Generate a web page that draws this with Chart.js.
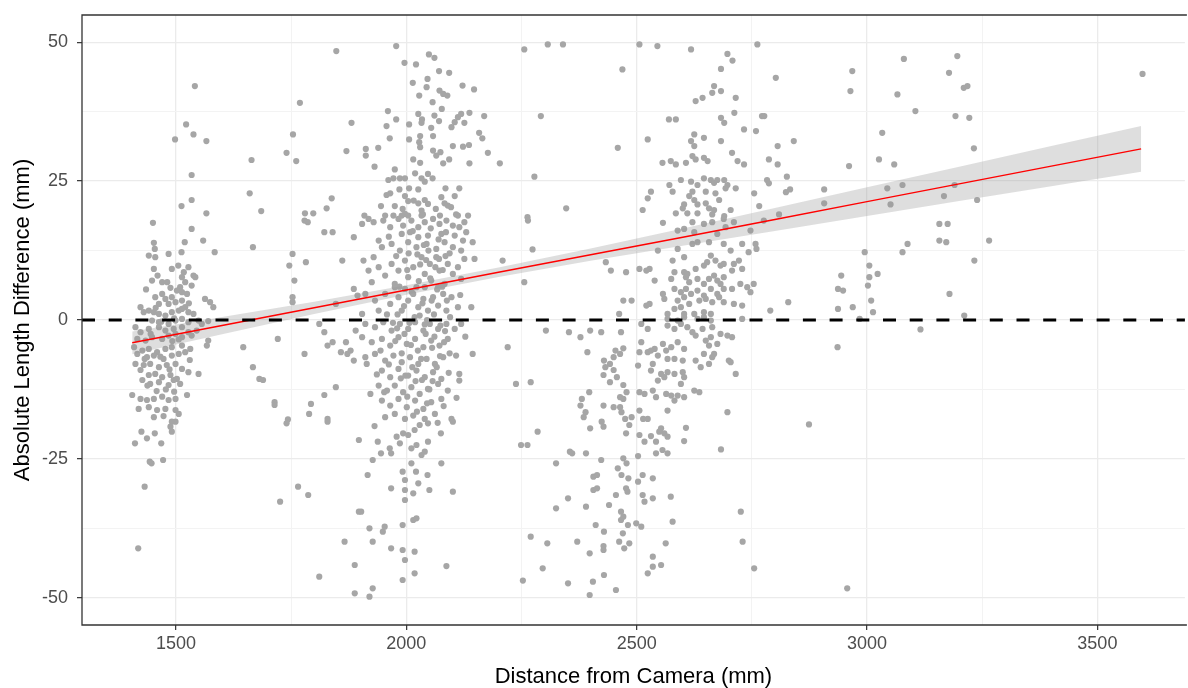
<!DOCTYPE html>
<html>
<head>
<meta charset="utf-8">
<script src="https://cdn.jsdelivr.net/npm/chart.js@4.4.1/dist/chart.umd.min.js"></script>
<style>
  html, body { margin: 0; padding: 0; background: #ffffff; }
  #wrap { width: 1188px; height: 688px; }
</style>
</head>
<body>
<div id="wrap"><canvas id="c" width="1188" height="688"></canvas></div>
<script>
// ---- Data (distance from camera in mm, absolute length difference in mm) ----
const left1500 = [
[1541,42.1],[1522,35.2],[1498,32.5],[1538,33.4],[1566,32.2],[1534,26.1],[1512,20.5],[1534,21.6],[1566,19.2],
[1450,17.5],[1534,16.4],[1519,14.0],[1559,14.3],[1584,12.2],[1452,13.9],[1454,12.8],[1441,11.6],[1455,11.3],[1484,11.9],[1512,12.2],
[1491,9.2],[1527,9.5],[1517,8.6],[1452,9.2],[1448,7.1],[1470,6.8],[1481,6.8],[1538,8.0],[1542,7.7],[1534,6.2],
[1513,7.7],[1520,6.8],[1509,5.9],[1502,5.3],[1513,5.0],[1524,4.7],[1470,4.7],[1455,4.1],[1477,3.8],[1491,4.1],
[1463,2.9],[1484,2.9],[1499,3.2],[1513,3.5],[1563,3.8],[1574,3.2],[1581,2.3],[1423,2.3],[1430,1.4],
[1441,1.7],[1452,1.4],[1463,1.1],[1477,0.8],[1491,1.4],[1506,1.7],[1513,2.0],[1520,2.3],[1527,1.4],[1538,1.1],
[1448,-0.1],[1463,-0.4],[1484,-0.7],[1499,-0.1],[1513,0.2],[1527,-0.4],[1549,-0.1],[1570,-0.2],
[1412,-1.3],[1423,-2.2],[1441,-1.6],[1463,-1.3],[1477,-1.9],[1495,-1.6],[1513,-1.3],[1527,-2.2],[1545,-1.9],[1556,-0.7],
[1416,-3.4],[1434,-3.7],[1448,-3.1],[1470,-3.4],[1484,-2.8],[1499,-2.5],[1513,-3.1],[1534,-2.8],[1570,-3.7],[1567,-4.6],
[1409,-4.9],[1427,-5.5],[1441,-5.2],[1459,-5.8],[1477,-5.2],[1491,-4.9],[1513,-4.6],[1531,-5.2],
[1416,-6.1],[1437,-6.7],[1452,-6.4],[1473,-7.0],[1491,-6.4],[1506,-6.1],
[1412,-7.9],[1430,-8.1],[1444,-7.9],[1463,-8.5],[1480,-8.1],[1499,-7.9],[1513,-8.8],[1527,-9.4],[1549,-9.7],
[1423,-9.0],[1441,-9.9],[1455,-9.7],[1470,-10.3],[1488,-9.9],[1502,-10.6],
[1427,-10.8],[1444,-11.5],[1463,-11.2],[1484,-11.7],[1495,-10.8],[1509,-11.5],[1524,-13.5],
[1405,-13.5],[1423,-14.2],[1437,-14.4],[1452,-14.2],[1470,-13.8],[1484,-14.4],[1499,-14.2],
[1419,-16.0],[1441,-15.7],[1459,-16.2],[1477,-16.0],[1499,-16.2],[1452,-17.5],[1473,-17.3],[1506,-16.9],
[1491,-18.3],[1499,-18.3],[1488,-19.2],[1491,-20.1],[1425,-20.1],[1454,-20.4],[1437,-21.3],[1411,-22.2],[1468,-22.2],
[1443,-25.5],[1447,-25.8],[1472,-25.2],[1432,-30.0],[1418,-41.1],
[1435,5.5],[1460,8.0],[1488,5.8],[1505,9.8],[1528,3.0],[1445,-2.5],[1468,-0.3],[1492,-3.8],[1520,-5.8],[1438,-11.8],
[1458,-12.8],[1478,-12.5],[1496,-12.9],[1432,-7.0],[1466,-6.6],[1486,-8.9],[1506,-3.5],[1456,2.2],[1496,0.3],[1530,-7.2]
];

const gap1750 = [
[1769,39.1],[1754,33.4],[1664,28.8],[1740,30.1],[1761,28.6],[1870,30.4],[1881,35.5],[1848,48.4],[1660,22.8],[1838,21.9],
[1685,19.6],[1827,20.1],[1780,19.2],[1798,19.2],
[1646,-4.9],[1667,13.1],[1721,-3.4],[1667,-8.5],[1681,-10.6],[1689,-10.8],[1714,-14.8],[1714,-15.3],[1753,11.9],[1746,9.8],
[1757,7.1],[1753,4.1],[1753,3.2],[1779,17.9],[1786,17.6],[1822,15.8],[1840,15.8],[1782,10.4],[1886,14.9],[1861,10.7],
[1811,-0.7],[1822,-2.2],[1829,-4.6],[1840,-4.0],[1779,-6.1],[1858,-5.8],[1872,-6.1],[1869,-4.0],[1886,-7.3],[1879,-5.5],
[1847,-12.1],[1822,-13.5],[1793,-15.1],[1789,-16.9],[1829,-17.8],[1743,-17.9],[1847,2.9],[1890,-1.9],[1886,5.6],[1894,4.4],
[1740,-18.6],[1829,-18.3],[1765,-30.0],[1787,-31.5],[1726,-32.7],[1866,-39.9],[1888,-44.1],[1811,-46.2],[1888,-49.2],[1897,-34.5]
];

const mid2000 = [
[1978,49.3],[1996,46.3],[2021,46.0],[2049,47.8],[2061,47.2],[2071,44.8],[2093,44.5],[2014,42.7],[2046,43.4],[2044,41.9],
[2028,40.4],[2072,41.3],[2080,40.7],[2089,40.4],[2057,39.2],[2122,42.2],[2147,41.5],[2077,38.0],[1960,37.6],[1978,36.1],
[1957,34.9],[2006,35.2],[2026,37.1],[2034,36.1],[2033,35.5],[2061,36.8],[2071,35.8],[2054,34.6],[2098,34.7],[2105,35.6],
[2112,36.5],[2119,37.1],[2126,35.5],[2137,37.3],[2169,36.7],[1964,32.7],[2006,32.5],[2030,33.1],[2028,32.0],[2030,31.1],
[2058,33.1],[2158,33.7],[2165,32.7],[1912,30.8],[1912,29.6],[1939,31.0],[1931,27.6],[2015,28.9],[2030,28.3],[2058,30.5],
[2065,29.6],[2074,30.2],[2080,28.2],[2093,28.9],[2101,31.3],[2123,31.2],[2136,31.5],[2137,28.2],[2177,30.1],[2203,28.2],
[1975,27.1],[1961,25.2],[1972,25.5],[1986,25.5],[1997,25.5],[2019,26.4],[2033,25.5],[2040,24.9],[2047,26.3],[2057,25.5],
[1957,22.5],[1965,22.8],[1985,23.5],[2006,23.7],[2026,23.5],[1997,22.3],[2004,21.4],[2085,23.7],[2115,23.7],[2076,22.1],
[2105,22.3],[2026,21.0],[2040,21.6],[2047,20.9],[1975,20.5],[2090,20.6],[2097,20.3],[2083,21.0],[2033,19.7],[1997,19.1],
[1909,18.8],[1954,18.8],[1972,18.8],[1990,18.8],[2004,18.8],[2033,18.8],[2073,18.8],[2112,18.8],[2134,18.8],
[1904,17.3],[1918,18.2],[1929,17.6],[1950,17.9],[1965,16.7],[1983,18.2],[1993,17.0],[2011,17.9],[2026,16.7],[2040,17.6],
[2058,18.2],[2072,17.3],[2087,17.9],[2101,17.0],[2115,16.7],[2126,17.6],[1990,15.5],[2008,15.8],[2026,14.9],[2047,15.2],
[2076,15.5],[2105,15.2],[2130,15.8],[1940,14.3],[1947,13.1],[1968,13.7],[1986,12.5],[2004,14.0],[2022,13.1],[2044,13.7],
[2065,12.8],[2083,14.0],[2101,13.1],[2119,12.5],[2144,14.0],[2123,14.3],[1907,10.7],[1929,11.3],[1918,8.9],
[1940,9.5],[1954,8.0],[1968,10.1],[1975,6.5],[1983,8.9],[1997,10.7],[2004,7.7],[2015,9.5],[2022,5.9],[2033,11.3],
[2040,8.3],[2051,10.1],[2054,7.1],[2065,11.3],[2072,8.9],[2083,6.5],[2090,10.1],[2101,8.3],[2112,9.5],[2119,7.4],
[2126,11.0],[2148,11.0],[2141,2.3],[2112,2.3],[2098,4.1],[1925,6.8],[1911,4.7],[1932,3.5],[1954,4.7],[1965,2.9],
[1983,4.1],[1990,1.7],[2004,3.5],[2015,4.7],[2026,2.3],[2037,3.8],[2047,1.7],[2058,4.1],[2069,2.6],[2080,4.7],
[2087,1.7],[1940,1.7],[1904,1.1],[1975,5.9],[1997,5.6],[2040,5.9],[2069,5.9],
[1911,-0.7],[1932,-1.3],[1950,-0.4],[1968,-1.9],[1986,-0.7],[2004,-1.6],[2019,-0.4],[2037,-1.9],[2051,-0.7],[2069,-1.6],
[2087,-0.7],[2105,-1.6],[2119,-0.7],[1904,-3.1],[1925,-4.0],[1947,-3.4],[1965,-4.6],[1983,-3.1],[2001,-4.3],[2019,-3.4],
[2037,-4.9],[2054,-3.7],[2072,-4.6],[2090,-3.4],[1911,-6.7],[1932,-6.1],[1954,-7.3],[1972,-6.4],[1990,-7.6],[2008,-6.7],
[2026,-7.9],[2044,-7.0],[2062,-7.9],[2080,-6.7],[2108,-6.4],[2144,-6.1],[1914,-7.9],[1947,-9.1],[1965,-10.3],[1983,-8.8],
[2004,-10.0],[2022,-9.1],[2040,-10.3],[2058,-9.4],[2076,-10.6],[2115,-9.7],[2115,-10.9],[1940,-11.8],[1958,-12.7],[1975,-11.8],
[1993,-13.0],[2011,-12.1],[2029,-13.3],[2047,-12.4],[2069,-11.5],[2090,-12.7],[1922,-13.3],[1947,-14.5],[1965,-15.4],[1983,-14.2],
[2001,-15.7],[2019,-14.5],[2037,-16.0],[2054,-14.8],[2076,-14.2],[1954,-17.5],[1975,-16.9],[1997,-17.8],[2015,-17.2],[2040,-17.8],
[2062,-16.9],[2098,-17.8],
[2005,12.0],[2012,5.0],[2018,0.5],[2025,-5.5],[2030,10.0],[2035,3.0],[2042,-2.5],[2048,12.5],[2052,7.5],[2056,-5.0],
[2060,1.0],[2063,9.5],[2066,-8.5],[2070,14.5],[2074,-1.0],[2078,6.0],[2082,-4.0],[2085,11.5],[2088,3.5],[2092,-9.5],
[2095,0.5],[2010,-4.5],[2014,16.0],[2020,-11.0],[2027,7.0],[2032,-7.0],[2038,13.5],[2045,0.0],[2050,-12.5],[2055,3.5],
[2061,-3.0],[2067,5.5],[2073,-6.5],[2079,9.0],[2084,-2.0],[1995,2.5],[1990,-6.0],[1998,-10.0],[1985,6.0],[1980,-1.5],
[1945,20.5],[1962,15.0],[1978,11.5],[1992,20.0],[2002,9.0],[2016,21.5],[2024,11.8],[2036,19.0],[2043,10.8],[2053,16.5],
[2064,20.0],[2071,11.0],[2086,15.8],[2094,12.0],[2108,19.0],[2117,4.5],[2128,-3.0],[2109,-14.0],[2094,-6.0],[2081,-15.5],
[2068,-18.5],[2057,-11.0],[2045,-15.0],[2034,-10.8],[2023,-16.5],[2013,-8.5],[2002,-13.8],[1988,-10.5],[1976,-3.8],[1962,-8.0],
[1952,-13.0],[1944,-5.5],[1936,-9.8],[1958,1.0],[1971,-0.5],[1981,1.0],[1996,-2.5],[2007,-0.5],[2029,0.8],[2040,-0.8],
[1931,-19.1],[1897,-21.6],[1938,-21.9],[1945,-24.0],[1927,-25.2],[1916,-27.9],[1967,-30.3],[1902,-34.5],[1920,-37.5],[1927,-39.9],
[1949,-38.1],[1953,-37.2],[1967,-41.1],[1927,-48.3],[1920,-49.8],[1992,-36.9],[1992,-41.4],[1997,-43.2],[1992,-46.8],[2018,-41.7],
[2018,-45.6],[2015,-36.0],[2022,-35.7],[2087,-44.3],[1992,-27.3],[1997,-28.8],[1997,-30.6],[1997,-32.4],[2021,-27.3],[2026,-29.4],
[2015,-31.2],[2011,-25.8],[2046,-27.9],[2050,-30.6],[2076,-25.8],[2101,-30.9],[2101,-18.3],[2075,-20.4],[2047,-21.9],[2040,-23.7],
[2033,-24.3],[2022,-22.5],[2011,-23.1],[1993,-20.4],[1986,-22.2],[1964,-23.1],[1967,-24.0],[1979,-21.0],[2004,-20.7],[2018,-19.8],
[2029,-18.9],[2047,-18.6]
];

const right2600 = [
[2256,48.7],[2307,49.6],[2340,49.6],[2469,45.1],[2292,36.7],[2459,31.0],[2278,25.8],[2347,20.1],[2263,18.5],
[2506,49.6],[2545,49.3],[2618,48.7],[2762,49.6],[2697,47.9],[2708,46.7],[2683,45.2],[2802,43.6],[2668,42.1],[2664,40.9],
[2683,41.2],[2628,39.4],[2643,40.0],[2715,40.0],[2712,37.3],[2570,36.1],[2585,36.1],[2683,36.4],[2690,35.5],[2772,36.7],
[2777,36.7],[2733,34.3],[2759,34.0],[2524,32.5],[2625,33.4],[2618,32.2],[2625,31.3],[2646,32.8],[2683,32.2],[2841,32.2],
[2806,31.3],[2707,30.1],[2556,28.3],[2574,28.6],[2585,28.0],[2607,28.3],[2621,29.5],[2628,28.9],[2646,29.2],[2654,28.6],
[2719,28.6],[2733,28.0],[2787,28.9],[2806,28.0],[2826,25.8],[2783,25.2],[2787,24.6],[2824,23.0],[2833,23.5],[2755,22.8],
[2766,20.5],[2809,19.0],
[2571,24.3],[2578,23.1],[2596,25.2],[2618,24.9],[2632,24.3],[2646,25.5],[2661,25.2],[2668,24.7],[2675,25.2],[2690,25.2],
[2697,24.3],[2715,23.7],[2621,23.1],[2614,22.3],[2650,23.1],[2671,22.8],[2679,21.6],[2693,23.7],[2625,21.6],[2603,20.8],
[2600,20.1],[2632,20.8],[2650,21.0],[2657,20.1],[2668,19.8],[2585,19.2],[2610,19.2],[2632,19.2],[2664,19.0],[2690,18.7],
[2704,19.8],[2524,21.9],[2531,23.1],[2513,19.8],
[2264,17.9],[2274,12.7],[2209,10.7],[2256,6.8],[2303,-1.9],[2353,-2.2],[2378,-3.1],[2399,-1.9],[2423,-2.2],[2466,-2.2],
[2462,1.1],[2471,3.5],[2489,3.5],[2433,10.4],[2444,8.9],[2477,8.6],[2220,-4.9],[2393,-5.8],[2454,-5.5],[2464,-6.1],
[2471,-5.1],[2450,-6.7],[2429,-7.3],[2442,-7.9],[2432,-8.5],[2428,-9.9],[2450,-9.0],[2442,-11.2],[2457,-10.3],[2471,-11.7],
[2478,-13.0],[2464,-13.9],[2238,-11.5],[2270,-11.2],[2397,-13.0],[2381,-14.2],[2378,-15.4],[2389,-16.6],[2385,-17.5],[2428,-15.4],
[2450,-15.7],[2464,-15.7],[2471,-14.2],[2467,-16.6],[2475,-17.8],[2489,-17.5],
[2557,17.5],[2589,16.1],[2603,16.4],[2621,17.6],[2625,15.8],[2646,17.3],[2664,17.6],[2675,15.5],[2689,18.2],[2693,16.7],
[2711,17.6],[2747,16.1],[2776,17.9],[2546,12.5],[2589,12.8],[2603,11.3],[2621,13.7],[2632,14.0],[2657,14.0],[2689,13.7],
[2704,12.5],[2729,13.7],[2743,12.2],[2758,13.7],[2760,12.8],[2506,9.2],[2528,9.2],[2521,8.9],[2539,7.1],[2578,10.7],
[2582,8.6],[2575,7.4],[2603,8.6],[2607,7.7],[2614,6.8],[2610,8.3],[2628,9.2],[2646,9.8],[2653,10.4],[2661,11.6],
[2671,10.7],[2682,9.8],[2689,10.1],[2711,10.1],[2722,10.7],[2729,9.2],[2707,8.9],[2632,7.4],[2646,6.5],[2657,7.4],
[2668,8.0],[2675,7.1],[2682,6.5],[2689,7.7],[2582,5.6],[2596,5.0],[2607,5.6],[2618,4.7],[2632,5.3],[2646,4.4],
[2661,5.6],[2675,4.7],[2689,5.6],[2557,4.7],[2560,3.8],[2528,2.9],[2521,2.6],[2589,3.5],[2603,4.1],[2614,2.9],
[2636,3.5],[2650,3.8],[2664,3.2],[2679,4.1],[2689,3.2],[2711,2.9],[2729,2.6],[2707,5.6],[2725,6.5],[2740,5.9],
[2754,6.5],[2747,5.0],[2582,2.0],[2596,2.3],[2567,1.1],[2603,1.1],[2625,1.1],[2646,1.4],[2661,1.1],[2790,1.7],
[2829,3.2],[2729,0.2],[2567,0.2],[2589,-0.1],[2603,0.5],[2632,0.2],[2646,0.5],[2661,-0.1],[2510,-0.7],[2524,-1.6],
[2567,-1.0],[2582,-1.6],[2596,-0.7],[2610,-1.3],[2621,-2.2],[2643,-1.6],[2664,-1.3],[2682,-2.5],[2697,-2.8],[2707,-3.1],
[2510,-4.0],[2524,-5.8],[2506,-5.8],[2539,-5.2],[2557,-4.3],[2575,-4.9],[2589,-4.0],[2603,-5.2],[2628,-2.8],[2650,-3.7],
[2657,-4.6],[2675,-4.3],[2661,-3.1],[2531,-5.5],[2546,-6.4],[2564,-5.5],[2567,-7.0],[2582,-7.0],[2600,-7.3],[2628,-7.3],
[2646,-6.1],[2668,-6.1],[2664,-6.7],[2657,-7.9],[2639,-8.5],[2700,-7.3],[2704,-7.6],[2715,-9.7],[2503,-8.2],[2535,-7.9],
[2531,-9.1],[2553,-9.7],[2546,-10.9],[2560,-10.3],[2567,-9.4],[2582,-9.7],[2600,-9.4],[2603,-10.3],[2596,-11.5],[2506,-13.0],
[2517,-13.3],[2535,-12.7],[2542,-13.9],[2564,-13.3],[2575,-13.6],[2589,-13.6],[2603,-13.9],[2625,-12.7],[2636,-13.0],[2506,-16.3],
[2567,-16.3],[2582,-14.5],[2697,-16.6],[2514,-17.8],[2524,-17.8],
[2285,-20.1],[2249,-22.5],[2263,-22.5],[2325,-25.8],[2355,-23.7],[2360,-24.0],[2390,-24.0],[2399,-19.5],[2428,-19.2],[2424,-18.3],
[2477,-20.4],[2484,-18.9],[2423,-25.2],[2406,-28.2],[2414,-27.9],[2406,-30.6],[2414,-30.3],[2459,-26.7],[2471,-24.9],[2478,-25.8],
[2467,-27.9],[2482,-28.5],[2477,-30.3],[2480,-30.9],[2455,-31.5],[2351,-32.1],[2325,-33.9],[2390,-33.6],[2440,-33.3],[2411,-36.9],
[2429,-38.1],[2466,-34.5],[2466,-36.0],[2471,-35.4],[2481,-36.9],[2470,-38.4],[2484,-40.2],[2462,-39.9],[2473,-41.1],[2270,-39.0],
[2306,-40.2],[2371,-39.9],[2428,-40.7],[2428,-41.4],[2398,-42.0],[2296,-44.7],[2253,-46.9],[2351,-47.4],[2405,-47.1],[2429,-45.9],
[2398,-49.5],[2455,-48.6],
[2607,-19.4],[2683,-23.3],[2603,-21.8],[2553,-19.5],[2560,-20.4],[2567,-21.0],[2549,-20.1],[2542,-21.9],[2556,-23.4],[2567,-24.0],
[2542,-24.0],[2531,-20.9],[2517,-21.9],[2506,-20.7],[2503,-24.5],[2513,-27.9],[2535,-28.5],[2503,-29.1],[2513,-31.5],[2517,-32.7],
[2535,-32.1],[2574,-31.8],[2578,-36.3],[2499,-36.6],[2510,-37.2],[2563,-40.2],[2535,-42.6],[2535,-44.4],[2553,-44.1],[2524,-45.6],
[2726,-34.5],[2730,-39.9],[2755,-44.7]
];

const far3100 = [
[2968,44.8],[2964,41.2],[3080,47.0],[3066,40.6],[2961,27.7],[3026,28.9],[3059,28.0],[3033,33.7],[2907,23.5],[2907,21.0],
[3044,23.7],[3077,24.3],[3051,20.8],
[3196,47.5],[3178,44.5],[3210,41.8],[3218,42.1],[3598,44.3],[3105,37.6],[3192,36.7],[3222,36.4],[3232,30.9],[3190,24.3],
[3167,22.3],[3239,21.6],
[2995,12.2],[3005,9.8],[3005,7.7],[3023,8.3],[3002,6.2],[3009,3.5],[3013,1.4],[2984,0.2],[2969,2.3],[2937,2.0],
[2944,8.0],[2937,5.6],[2948,5.3],[2936,-4.9],[3088,13.7],[3077,12.2],
[3157,17.3],[3175,17.3],[3157,14.3],[3172,14.0],[3265,14.3],[3233,10.7],[3179,4.7],[3211,0.8],[3116,-1.7],
[2874,-18.8],[2957,-48.3]
];

// Linear fit and its confidence band
const fitX    = [1405, 1600, 1800, 2000, 2200, 2400, 2600, 2800, 3000, 3200, 3400, 3595];
const fitY    = [-4.1, -1.0, 2.2, 5.4, 8.6, 11.75, 14.9, 18.1, 21.3, 24.5, 27.7, 30.8];
const fitLow  = [-6.15, -2.55, 1.1, 4.55, 7.75, 10.65, 13.35, 16.04, 18.71, 21.4, 24.07, 26.7];
const fitHigh = [-2.05, 0.55, 3.3, 6.25, 9.45, 12.85, 16.45, 20.16, 23.89, 27.6, 31.33, 34.9];

// Axis settings
const xMin = 1296, xMax = 3690;
const yMin = -54.9, yMax = 54.9;
const zeroLineX = [xMin, xMax];
const zeroLineY = [0, 0];

const toPts = arr => arr.map(([x, y]) => ({x, y}));
const observations = toPts([...left1500, ...gap1750, ...mid2000, ...right2600, ...far3100]);

const FONT = "'Liberation Sans', Arial, Helvetica, sans-serif";

const panelBorder = {
  id: 'panelBorder',
  afterDraw(chart) {
    const {ctx, chartArea: a} = chart;
    ctx.save();
    ctx.strokeStyle = '#333333';
    ctx.lineWidth = 1.3;
    ctx.beginPath();
    ctx.moveTo(a.right + 2, a.top);
    ctx.lineTo(a.left, a.top);
    ctx.lineTo(a.left, a.bottom);
    ctx.lineTo(a.right + 2, a.bottom);
    ctx.stroke();
    ctx.restore();
  }
};

new Chart(document.getElementById('c'), {
  type: 'scatter',
  data: {
    datasets: [
      {
        label: 'Observations',
        data: observations,
        pointRadius: 3.1,
        pointHoverRadius: 3.1,
        pointBackgroundColor: '#A6A6A6',
        pointBorderWidth: 0,
        borderWidth: 0,
        order: 4
      },
      {
        type: 'line',
        label: 'CI upper',
        data: fitX.map((x, i) => ({x, y: fitHigh[i]})),
        borderWidth: 0,
        borderColor: 'rgba(0,0,0,0)',
        pointRadius: 0,
        fill: '+1',
        backgroundColor: 'rgba(153,153,153,0.32)',
        order: 3
      },
      {
        type: 'line',
        label: 'CI lower',
        data: fitX.map((x, i) => ({x, y: fitLow[i]})),
        borderWidth: 0,
        borderColor: 'rgba(0,0,0,0)',
        pointRadius: 0,
        fill: false,
        order: 3
      },
      {
        type: 'line',
        label: 'Fit',
        data: fitX.map((x, i) => ({x, y: fitY[i]})),
        borderColor: '#FF0000',
        borderWidth: 1.4,
        pointRadius: 0,
        fill: false,
        order: 2
      },
      {
        type: 'line',
        label: 'Zero',
        data: zeroLineX.map((x, i) => ({x, y: zeroLineY[i]})),
        borderColor: '#000000',
        borderWidth: 2.8,
        borderDash: [13, 13.7],
        pointRadius: 0,
        fill: false,
        order: 1
      }
    ]
  },
  options: {
    responsive: false,
    animation: false,
    devicePixelRatio: 1,
    layout: { padding: { top: 15, right: 0, bottom: 0, left: 0 } },
    plugins: { legend: { display: false }, tooltip: { enabled: false } },
    scales: {
      x: {
        type: 'linear',
        min: xMin, max: xMax,
        afterFit: s => { s.height = 63; s.paddingLeft = 0; s.paddingRight = 0; },
        border: { display: false },
        grid: {
          color: c => (c.tick && c.tick.value % 500 === 0) ? '#EBEBEB' : '#F3F3F3',
          lineWidth: c => (c.tick && c.tick.value % 500 === 0) ? 1.3 : 1,
          tickColor: c => (c.tick && c.tick.value % 500 === 0) ? '#333333' : 'rgba(0,0,0,0)',
          tickLength: 5,
          tickWidth: 1.2
        },
        ticks: {
          stepSize: 250,
          includeBounds: false,
          autoSkip: false,
          maxRotation: 0,
          padding: 3,
          color: '#4D4D4D',
          font: { family: FONT, size: 18 },
          callback: v => (v % 500 === 0 ? String(v) : '')
        },
        title: {
          display: true,
          text: 'Distance from Camera (mm)',
          color: '#000000',
          font: { family: FONT, size: 22 },
          padding: { top: 0, bottom: -2 }
        }
      },
      y: {
        type: 'linear',
        min: yMin, max: yMax,
        afterFit: s => { s.width = 82; s.paddingTop = 0; s.paddingBottom = 0; },
        border: { display: false },
        grid: {
          color: c => (c.tick && c.tick.value % 25 === 0) ? '#EBEBEB' : '#F3F3F3',
          lineWidth: c => (c.tick && c.tick.value % 25 === 0) ? 1.3 : 1,
          tickColor: c => (c.tick && c.tick.value % 25 === 0) ? '#333333' : 'rgba(0,0,0,0)',
          tickLength: 5,
          tickWidth: 1.2
        },
        ticks: {
          stepSize: 12.5,
          includeBounds: false,
          autoSkip: false,
          padding: 9,
          color: '#4D4D4D',
          font: { family: FONT, size: 18 },
          callback: v => (v % 25 === 0 ? String(v) : '')
        },
        title: {
          display: true,
          text: 'Absolute Length Difference (mm)',
          color: '#000000',
          font: { family: FONT, size: 22 },
          padding: { top: 10, bottom: 0 }
        }
      }
    }
  },
  plugins: [panelBorder]
});
</script>
</body>
</html>
